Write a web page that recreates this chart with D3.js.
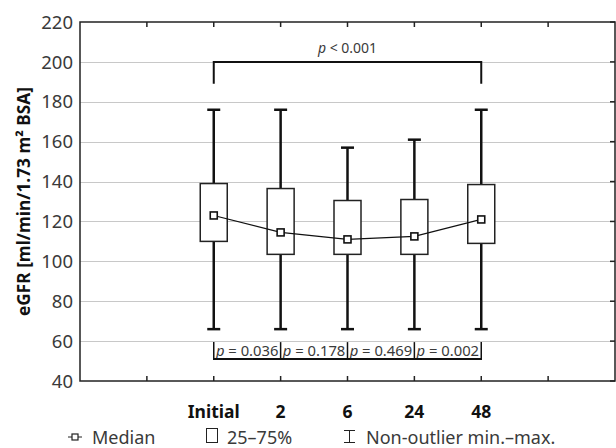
<!DOCTYPE html>
<meta charset="utf-8">
<style>
body { margin: 0; background: #fff; }
svg { font-family: "Noto Sans", "Open Sans", sans-serif; }
.grid line { stroke: #c8c8c8; stroke-width: 1; shape-rendering: crispEdges; }
.tick-label { fill: #3a3a3a; font-size: 18.5px; }
.cat-label { fill: #111; font-size: 17.5px; font-weight: bold; }
.pval { fill: #3a3a3a; font-size: 14px; }
.pval.pair { font-size: 14.8px; }
.legend { fill: #3a3a3a; font-size: 18px; }
</style>
<svg width="616" height="448"></svg>
<script src="https://d3js.org/d3.v7.min.js"></script>
<script>

var categories = ["Initial", "2", "6", "24", "48"];
var positions = [2, 3, 4, 5, 6];
var whiskMin = [66, 66, 66, 66, 66];
var q1 = [110, 103.5, 103.5, 103.5, 109];
var medians = [123, 114.5, 111, 112.5, 121];
var q3 = [139, 136.5, 130.5, 131, 138.5];
var whiskMax = [176, 176, 157, 161, 176];
var yTicks = [40, 60, 80, 100, 120, 140, 160, 180, 200, 220];
var xTicks = [1, 2, 3, 4, 5, 6, 7];
var pairLabels = ["0.036", "0.178", "0.469", "0.002"];
var overallLabel = "< 0.001";

var svg = d3.select("svg"),
    margin = {top: 22, right: 1, bottom: 67, left: 80},
    width = 616 - margin.left - margin.right,
    height = 448 - margin.top - margin.bottom,
    g = svg.append("g").attr("transform", "translate(" + margin.left + "," + margin.top + ")");

var x = d3.scaleLinear().domain([0, 8]).range([0, width]);
var y = d3.scaleLinear().domain([40, 220]).range([height, 0]);

// gridlines
g.append("g").attr("class", "grid")
  .selectAll("line")
  .data(yTicks.slice(1, -1))
  .enter().append("line")
    .attr("x1", 0).attr("x2", width)
    .attr("y1", function(d) { return Math.round(y(d)) + 0.5; })
    .attr("y2", function(d) { return Math.round(y(d)) + 0.5; });

// y tick labels
g.selectAll(".tick-label")
  .data(yTicks)
  .enter().append("text")
    .attr("class", "tick-label")
    .attr("x", -7)
    .attr("y", function(d) { return y(d); })
    .attr("dy", "0.36em")
    .attr("text-anchor", "end")
    .text(function(d) { return d; });

// inner ticks: top and bottom
xTicks.forEach(function(t) {
  g.append("line").attr("x1", x(t)).attr("x2", x(t)).attr("y1", 0).attr("y2", 5)
    .attr("stroke", "#222").attr("stroke-width", 1.5);
  g.append("line").attr("x1", x(t)).attr("x2", x(t)).attr("y1", height).attr("y2", height - 5)
    .attr("stroke", "#222").attr("stroke-width", 1.5);
});
yTicks.forEach(function(t) {
  g.append("line").attr("x1", width).attr("x2", width - 5).attr("y1", y(t)).attr("y2", y(t))
    .attr("stroke", "#222").attr("stroke-width", 1.5);
});

// frame
g.append("rect").attr("x", 0).attr("y", 0).attr("width", width).attr("height", height)
  .attr("fill", "none").attr("stroke", "#222").attr("stroke-width", 1.5);

// boxes
var boxW = 27, capW = 13;
categories.forEach(function(c, i) {
  var cx = x(positions[i]);
  g.append("line").attr("x1", cx).attr("x2", cx)
    .attr("y1", y(whiskMax[i])).attr("y2", y(q3[i]))
    .attr("stroke", "#111").attr("stroke-width", 2.5);
  g.append("line").attr("x1", cx).attr("x2", cx)
    .attr("y1", y(q1[i])).attr("y2", y(whiskMin[i]))
    .attr("stroke", "#111").attr("stroke-width", 2.5);
  [whiskMax[i], whiskMin[i]].forEach(function(v) {
    g.append("line").attr("x1", cx - capW / 2).attr("x2", cx + capW / 2)
      .attr("y1", y(v)).attr("y2", y(v))
      .attr("stroke", "#111").attr("stroke-width", 2.5);
  });
  g.append("rect")
    .attr("x", cx - boxW / 2).attr("y", y(q3[i]))
    .attr("width", boxW).attr("height", y(q1[i]) - y(q3[i]))
    .attr("fill", "#fff").attr("stroke", "#222").attr("stroke-width", 1.5);
});

// median line
var line = d3.line()
  .x(function(d, i) { return x(positions[i]); })
  .y(function(d) { return y(d); });
g.append("path").attr("d", line(medians))
  .attr("fill", "none").attr("stroke", "#111").attr("stroke-width", 1.2);
g.selectAll(".med")
  .data(medians)
  .enter().append("rect")
    .attr("class", "med")
    .attr("x", function(d, i) { return x(positions[i]) - 3.5; })
    .attr("y", function(d) { return y(d) - 3.5; })
    .attr("width", 7).attr("height", 7)
    .attr("fill", "#fff").attr("stroke", "#111").attr("stroke-width", 1.6);

// top bracket
var bx0 = x(positions[0]), bx1 = x(positions[4]);
g.append("path")
  .attr("d", "M" + bx0 + "," + y(189) + "V" + y(200) + "H" + bx1 + "V" + y(189))
  .attr("fill", "none").attr("stroke", "#111").attr("stroke-width", 2);
var topText = g.append("text").attr("class", "pval")
  .attr("x", (bx0 + bx1) / 2).attr("y", y(200) - 9).attr("text-anchor", "middle");
topText.append("tspan").attr("font-style", "italic").text("p");
topText.append("tspan").text(" " + overallLabel);

// bottom pairwise brackets
var yTop = y(60) + 1, yBot = y(51);
pairLabels.forEach(function(p, i) {
  var xa = x(positions[i]), xb = x(positions[i + 1]);
  var t = g.append("text").attr("class", "pval pair")
    .attr("x", (xa + xb) / 2).attr("y", (yTop + yBot) / 2)
    .attr("dy", "0.36em").attr("text-anchor", "middle");
  t.append("tspan").attr("font-style", "italic").text("p");
  t.append("tspan").text(" = " + p);
});
positions.forEach(function(pos) {
  g.append("line").attr("x1", x(pos)).attr("x2", x(pos))
    .attr("y1", yTop).attr("y2", yBot)
    .attr("stroke", "#111").attr("stroke-width", 1.5);
});
g.append("line").attr("x1", x(positions[0]) - 0.75).attr("x2", x(positions[4]) + 0.75)
  .attr("y1", yBot).attr("y2", yBot)
  .attr("stroke", "#111").attr("stroke-width", 2);

// category labels
g.selectAll(".cat-label")
  .data(categories)
  .enter().append("text")
    .attr("class", "cat-label")
    .attr("x", function(d, i) { return x(positions[i]); })
    .attr("y", 418 - margin.top)
    .attr("text-anchor", "middle")
    .text(function(d) { return d; });

// y axis title
svg.append("text")
  .attr("transform", "translate(30," + (margin.top + height / 2) + ") rotate(-90)")
  .attr("text-anchor", "middle")
  .attr("font-size", "17.3px").attr("font-weight", "bold").attr("fill", "#111")
  .text("eGFR [ml/min/1.73 m\u00b2 BSA]");

// legend
var ly = 437;
var lg = svg.append("g");
lg.append("line").attr("x1", 68).attr("x2", 82).attr("y1", ly).attr("y2", ly)
  .attr("stroke", "#222").attr("stroke-width", 1);
lg.append("rect").attr("x", 72).attr("y", ly - 3).attr("width", 6).attr("height", 6)
  .attr("fill", "#fff").attr("stroke", "#222").attr("stroke-width", 1.2);
lg.append("text").attr("class", "legend").attr("x", 92).attr("y", 444).text("Median");
lg.append("rect").attr("x", 206.5).attr("y", 428.5).attr("width", 11).attr("height", 14)
  .attr("fill", "#fff").attr("stroke", "#222").attr("stroke-width", 1);
lg.append("text").attr("class", "legend").attr("x", 227).attr("y", 444).text("25\u201375%");
lg.append("path").attr("d", "M344,430.5H355M349.5,430.5V442.5M344,442.5H355")
  .attr("fill", "none").attr("stroke", "#222").attr("stroke-width", 1);
lg.append("text").attr("class", "legend").attr("x", 366).attr("y", 444).text("Non-outlier min.\u2013max.");

</script>
